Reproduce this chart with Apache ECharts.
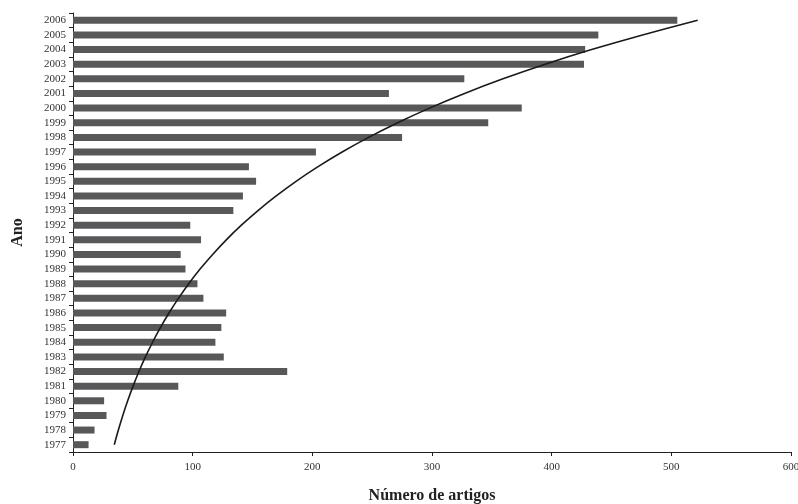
<!DOCTYPE html>
<html>
<head>
<meta charset="utf-8">
<script src="https://cdn.jsdelivr.net/npm/echarts@6/dist/echarts.min.js"></script>
<style>html,body{margin:0;padding:0;background:#fff}#c{width:798px;height:504px}</style>
</head>
<body>
<div id="c"></div>
<script>
var years = ['1977','1978','1979','1980','1981','1982','1983','1984','1985','1986','1987','1988','1989','1990','1991','1992','1993','1994','1995','1996','1997','1998','1999','2000','2001','2002','2003','2004','2005','2006'];
var articles = [13,18,28,26,88,179,126,119,124,128,109,104,94,90,107,98,134,142,153,147,203,275,347,375,264,327,427,428,439,505];
var trend = [34.5,37.9,41.6,45.7,50.2,55.1,60.5,66.5,73.0,80.2,88.1,96.7,106.2,116.7,128.1,140.7,154.6,169.8,186.4,204.8,224.9,247.0,271.3,297.9,327.2,359.3,394.6,433.4,475.9,522.0];
var xTicks = [0,100,200,300,400,500,600];

var chart = echarts.init(document.getElementById('c'), null, {renderer:'canvas'});
var font = 'Liberation Serif';
chart.setOption({
  animation: false,
  backgroundColor: '#ffffff',
  grid: {left: 73, right: 7, top: 13, bottom: 52, containLabel: false, outerBoundsMode: 'none'},
  xAxis: {
    type: 'value', min: xTicks[0], max: xTicks[xTicks.length-1], interval: 100,
    name: 'Número de artigos', nameLocation: 'middle', nameGap: 36,
    nameTextStyle: {fontFamily: font, fontSize: 16, fontWeight: 'bold', color: '#222'},
    axisLine: {show: true, lineStyle: {color: '#222', width: 1}},
    axisTick: {show: true, length: 4, lineStyle: {color: '#222'}},
    axisLabel: {fontFamily: font, fontSize: 11, color: '#333', margin: 10},
    splitLine: {show: false}
  },
  yAxis: {
    type: 'category', data: years,
    name: 'Ano', nameLocation: 'middle', nameGap: 47,
    nameTextStyle: {fontFamily: font, fontSize: 16, fontWeight: 'bold', color: '#222'},
    axisLine: {show: true, lineStyle: {color: '#222', width: 1}},
    axisTick: {show: true, length: 4, lineStyle: {color: '#222'}},
    axisLabel: {fontFamily: font, fontSize: 11, color: '#333', margin: 7, interval: 0},
    splitLine: {show: false}
  },
  series: [
    {type: 'bar', data: articles, barWidth: 7, itemStyle: {color: '#58585b'}},
    {type: 'line', data: trend, smooth: 0.3, symbol: 'none', lineStyle: {color: '#1a1a1a', width: 1.6}, z: 5}
  ]
});
</script>
</body>
</html>
